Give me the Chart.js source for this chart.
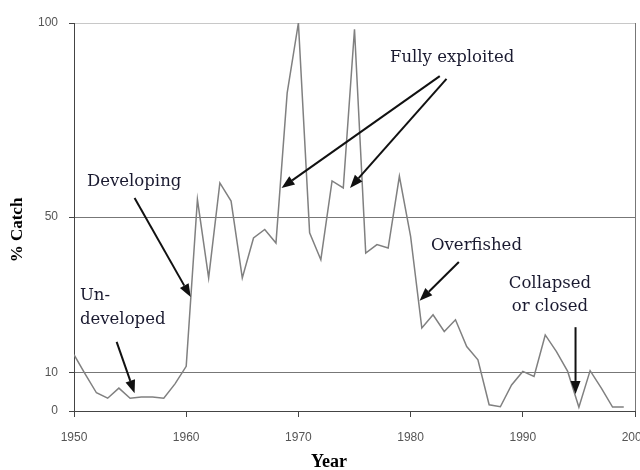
<!DOCTYPE html>
<html><head><meta charset="utf-8">
<script src="https://cdn.jsdelivr.net/npm/chart.js@4.4.1/dist/chart.umd.min.js"></script>
<style>html,body{margin:0;padding:0;background:#fff}#wrap{width:640px;height:470px;position:relative}</style>
</head><body><div id="wrap"><canvas id="c" width="640" height="470"></canvas></div>
<script>
const years = [1950,1951,1952,1953,1954,1955,1956,1957,1958,1959,1960,1961,1962,1963,1964,1965,1966,1967,1968,1969,1970,1971,1972,1973,1974,1975,1976,1977,1978,1979,1980,1981,1982,1983,1984,1985,1986,1987,1988,1989,1990,1991,1992,1993,1994,1995,1996,1997,1998,1999];
const catchPct = [14.5,9.5,4.7,3.3,5.9,3.3,3.6,3.6,3.3,7,11.5,54.5,34.3,58.8,54.1,34.3,44.6,46.8,43.3,82,100,45.9,39,59.3,57.5,98.4,40.7,42.9,42,60.5,45,21.4,24.8,20.5,23.5,16.6,13.2,1.6,1.1,6.7,10.2,8.9,19.6,15.3,10.2,1,10.4,5.9,1,1];
const xTicks = [1950,1960,1970,1980,1990,2000];
const yTicks = [0,10,50,100];
const xTitle = 'Year';
const yTitle = '% Catch';
const noteTexts = ["Developing","Un-","developed","Fully exploited","Overfished","Collapsed","or closed"];
const noteYears = [1951.16,1950.53,1950.53,1978.16,1981.82,1992.42,1992.42];
const noteValues = [59.0,29.6,23.5,91.0,42.5,32.7,26.8];
const noteAlign = ["left","left","left","left","left","center","center"];
const arrowFrom = [[1955.4,54.9],[1953.8,17.8],[1982.6,86.3],[1983.2,85.6],[1984.3,38.4],[1994.7,21.6]];
const arrowTo = [[1960.4,29.4],[1955.4,4.6],[1968.5,57.5],[1974.6,57.5],[1980.8,28.4],[1994.7,4.4]];

const annot = {
  id: 'annot',
  afterDraw(chart) {
    const ctx = chart.ctx, xs = chart.scales.x, ys = chart.scales.y;
    ctx.save();
    // axis titles
    ctx.fillStyle = '#000';
    ctx.font = 'bold 18px "Liberation Serif", "Times New Roman", serif';
    ctx.textAlign = 'center'; ctx.textBaseline = 'middle';
    ctx.fillText(xTitle, 329, 462);
    ctx.save();
    ctx.translate(18, 230); ctx.rotate(-Math.PI / 2);
    ctx.font = 'bold 17px "Liberation Serif", "Times New Roman", serif';
    ctx.fillText(yTitle, 0, 0);
    ctx.restore();
    // notes
    ctx.fillStyle = '#1a1a30';
    ctx.font = '16.5px "DejaVu Serif", serif';
    ctx.textBaseline = 'middle';
    noteTexts.forEach((t, i) => {
      ctx.textAlign = noteAlign[i];
      ctx.fillText(t, xs.getPixelForValue(noteYears[i]), ys.getPixelForValue(noteValues[i]));
    });
    ctx.strokeStyle = '#111'; ctx.fillStyle = '#111'; ctx.lineWidth = 2;
    arrowFrom.forEach((f, i) => {
      const x1 = xs.getPixelForValue(f[0]), y1 = ys.getPixelForValue(f[1]);
      const x2 = xs.getPixelForValue(arrowTo[i][0]), y2 = ys.getPixelForValue(arrowTo[i][1]);
      const a = Math.atan2(y2 - y1, x2 - x1), L = 13, W = 5;
      const bx = x2 - L * Math.cos(a), by = y2 - L * Math.sin(a);
      ctx.beginPath(); ctx.moveTo(x1, y1); ctx.lineTo(bx, by); ctx.stroke();
      ctx.beginPath();
      ctx.moveTo(x2, y2);
      ctx.lineTo(bx + W * Math.sin(a), by - W * Math.cos(a));
      ctx.lineTo(bx - W * Math.sin(a), by + W * Math.cos(a));
      ctx.closePath(); ctx.fill();
    });
    ctx.restore();
  }
};

new Chart(document.getElementById('c'), {
  type: 'line',
  data: {
    datasets: [{
      data: years.map((y, i) => ({x: y, y: catchPct[i]})),
      borderColor: '#808080', borderWidth: 1.5, pointRadius: 0, tension: 0, fill: false
    }]
  },
  options: {
    responsive: false, animation: false,
    layout: {padding: {top: 23, right: 5, left: 0, bottom: 0}},
    plugins: {legend: {display: false}, tooltip: {enabled: false}},
    scales: {
      x: {
        type: 'linear', min: 1950, max: 2000,
        afterBuildTicks: s => { s.ticks = xTicks.map(v => ({value: v})); },
        afterFit: s => { s.height = 59; s.paddingLeft = 0; s.paddingRight = 0; },
        ticks: {callback: v => String(v), color: '#555', font: {family: '"Liberation Sans", Arial, sans-serif', size: 12}, padding: 13, maxRotation: 0, autoSkip: false},
        grid: {color: c => (c.tick && c.tick.value === 2000) ? '#777' : 'rgba(0,0,0,0)', tickColor: '#444', tickLength: 6, drawOnChartArea: true},
        border: {color: '#444', width: 1}
      },
      y: {
        type: 'linear', min: 0, max: 100,
        afterBuildTicks: s => { s.ticks = yTicks.map(v => ({value: v})); },
        afterFit: s => { s.width = 74; },
        ticks: {color: '#555', font: {family: '"Liberation Sans", Arial, sans-serif', size: 12}, padding: 11},
        grid: {color: c => { const v = c.tick && c.tick.value; return v === 100 ? '#c8c8c8' : (v === 0 ? 'rgba(0,0,0,0)' : '#777'); }, tickColor: '#444', tickLength: 5},
        border: {color: '#444', width: 1}
      }
    }
  },
  plugins: [annot]
});
</script>
</body></html>
